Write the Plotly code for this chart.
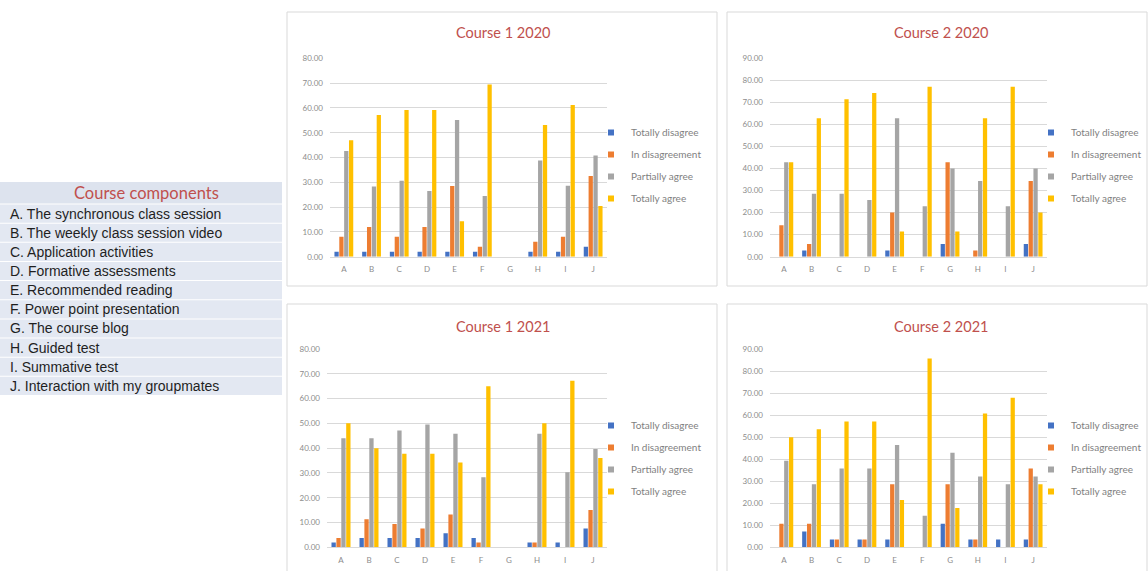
import plotly.graph_objects as go

W, H = 1148, 571

categories = ["A", "B", "C", "D", "E", "F", "G", "H", "I", "J"]
series_names = ["Totally disagree", "In disagreement", "Partially agree", "Totally agree"]
series_colors = ["#4472C4", "#ED7D31", "#A5A5A5", "#FFC000"]

# Percentages per course component (A..J) for each response level
c1_2020_totally_disagree = [2.0, 2.0, 2.0, 2.0, 2.0, 2.0, 0.0, 2.0, 2.0, 4.0]
c1_2020_in_disagreement = [8.0, 12.0, 8.0, 12.0, 28.5, 4.0, 0.0, 6.0, 8.0, 32.5]
c1_2020_partially_agree = [42.6, 28.3, 30.6, 26.5, 55.1, 24.5, 0.0, 38.8, 28.6, 40.8]
c1_2020_totally_agree = [47.0, 57.1, 59.2, 59.2, 14.3, 69.4, 0.0, 53.1, 61.2, 20.4]

c2_2020_totally_disagree = [0.0, 2.86, 0.0, 0.0, 2.86, 0.0, 5.71, 0.0, 0.0, 5.71]
c2_2020_in_disagreement = [14.29, 5.71, 0.0, 0.0, 20.0, 0.0, 42.86, 2.86, 0.0, 34.29]
c2_2020_partially_agree = [42.86, 28.57, 28.57, 25.71, 62.86, 22.86, 40.0, 34.29, 22.86, 40.0]
c2_2020_totally_agree = [42.86, 62.86, 71.43, 74.29, 11.43, 77.14, 11.43, 62.86, 77.14, 20.0]

c1_2021_totally_disagree = [1.89, 3.77, 3.77, 3.77, 5.66, 3.77, 0.0, 1.89, 1.89, 7.55]
c1_2021_in_disagreement = [3.77, 11.32, 9.43, 7.55, 13.21, 1.89, 0.0, 1.89, 0.0, 15.09]
c1_2021_partially_agree = [43.96, 43.96, 47.17, 49.5, 45.8, 28.3, 0.0, 45.8, 30.3, 39.62]
c1_2021_totally_agree = [50.0, 40.0, 37.74, 37.74, 34.2, 65.0, 0.0, 50.0, 67.2, 36.0]

c2_2021_totally_disagree = [0.0, 7.14, 3.57, 3.57, 3.57, 0.0, 10.71, 3.57, 3.57, 3.57]
c2_2021_in_disagreement = [10.71, 10.71, 3.57, 3.57, 28.57, 0.0, 28.57, 3.57, 0.0, 35.71]
c2_2021_partially_agree = [39.29, 28.57, 35.71, 35.71, 46.43, 14.29, 42.86, 32.14, 28.57, 32.14]
c2_2021_totally_agree = [50.0, 53.57, 57.14, 57.14, 21.43, 85.71, 17.86, 60.71, 67.86, 28.57]

panel_titles = ["Course 1 2020", "Course 2 2020", "Course 1 2021", "Course 2 2021"]
panel_ymax = [80, 90, 80, 90]

component_header = "Course components"
component_labels = [
    "A. The synchronous class session",
    "B. The weekly class session video",
    "C. Application activities",
    "D. Formative assessments",
    "E. Recommended reading",
    "F. Power point presentation",
    "G. The course blog",
    "H. Guided test",
    "I. Summative test",
    "J. Interaction with my groupmates",
]

panels = [
    [c1_2020_totally_disagree, c1_2020_in_disagreement, c1_2020_partially_agree, c1_2020_totally_agree],
    [c2_2020_totally_disagree, c2_2020_in_disagreement, c2_2020_partially_agree, c2_2020_totally_agree],
    [c1_2021_totally_disagree, c1_2021_in_disagreement, c1_2021_partially_agree, c1_2021_totally_agree],
    [c2_2021_totally_disagree, c2_2021_in_disagreement, c2_2021_partially_agree, c2_2021_totally_agree],
]


def px_x(x):
    return x / W


def px_y(y):
    return (H - y) / H


CHART_FONT = "Lato, 'Open Sans', sans-serif"
TABLE_FONT = "'Liberation Sans', Arial, sans-serif"
TITLE_COLOR = "#C0504D"

# pixel boxes: plot area (left, right, top, bottom), frame, title centre, legend anchor
layout_boxes = [
    dict(plot=(330, 607, 58.3, 256.7), frame=(287, 717, 12, 286), title=(503, 33), legend=(591, 118)),
    dict(plot=(770, 1047, 58.3, 256.7), frame=(727, 1147, 12, 286), title=(941, 33), legend=(1031, 118)),
    dict(plot=(327, 607, 349.0, 547.3), frame=(287, 717, 304, 575), title=(503, 326), legend=(591, 411)),
    dict(plot=(770, 1047, 349.0, 547.3), frame=(727, 1147, 304, 575), title=(941, 326), legend=(1031, 411)),
]

fig = go.Figure()
shapes = []
annotations = []

# Course components key on the left
TABLE_L, TABLE_R = 0, 282
HEADER_TOP, HEADER_BOTTOM = 182, 203.5
ROW_H = 19.15
shapes.append(dict(
    type="rect", xref="paper", yref="paper", layer="below",
    x0=px_x(TABLE_L), x1=px_x(TABLE_R), y0=px_y(HEADER_BOTTOM), y1=px_y(HEADER_TOP),
    fillcolor="#DDE3EE", line=dict(width=0),
))
annotations.append(dict(
    text=component_header, x=px_x((TABLE_L + TABLE_R) / 2 + 5), y=px_y(192.5),
    xref="paper", yref="paper", xanchor="center", yanchor="middle", showarrow=False,
    font=dict(family=CHART_FONT, size=16.5, color=TITLE_COLOR),
))
for k, label in enumerate(component_labels):
    top = HEADER_BOTTOM + 1 + k * ROW_H
    shapes.append(dict(
        type="rect", xref="paper", yref="paper", layer="below",
        x0=px_x(TABLE_L), x1=px_x(TABLE_R), y0=px_y(top + ROW_H - 1), y1=px_y(top),
        fillcolor="#E3E8F2", line=dict(width=0),
    ))
    annotations.append(dict(
        text=label, x=px_x(8), y=px_y(top + ROW_H / 2 - 0.5),
        xref="paper", yref="paper", xanchor="left", yanchor="middle", showarrow=False,
        font=dict(family=TABLE_FONT, size=14, color="#1f1f1f"),
    ))

for i, (box, values) in enumerate(zip(layout_boxes, panels)):
    n = i + 1
    xa = "x" if n == 1 else f"x{n}"
    ya = "y" if n == 1 else f"y{n}"
    lg = "legend" if n == 1 else f"legend{n}"
    for name, color, vals in zip(series_names, series_colors, values):
        fig.add_trace(go.Bar(
            x=categories, y=vals, name=name, marker=dict(color=color, line=dict(width=0)),
            xaxis=xa, yaxis=ya, showlegend=False, legendgroup=f"{lg}-{name}",
        ))
    # compact square legend keys for the series
    for name, color in zip(series_names, series_colors):
        fig.add_trace(go.Scatter(
            x=[None], y=[None], mode="markers", name=name,
            marker=dict(symbol="square", size=6, color=color),
            xaxis=xa, yaxis=ya, legend=lg, legendgroup=f"{lg}-{name}", hoverinfo="skip",
        ))

    x0, x1, y0, y1 = box["plot"]
    xkey = "xaxis" if n == 1 else f"xaxis{n}"
    ykey = "yaxis" if n == 1 else f"yaxis{n}"
    fig.update_layout(**{
        xkey: dict(
            domain=[px_x(x0), px_x(x1)], anchor=ya, showgrid=False, zeroline=False,
            showline=True, linecolor="#D9D9D9", linewidth=1, ticks="",
            type="category", categoryorder="array", categoryarray=categories,
            tickfont=dict(family=CHART_FONT, size=8, color="#8C8C8C"), ticklabelstandoff=5,
            fixedrange=True,
        ),
        ykey: dict(
            domain=[px_y(y1), px_y(y0)], anchor=xa, range=[0, panel_ymax[i]], dtick=10,
            tickformat=".2f", showgrid=True, gridcolor="#D9D9D9", gridwidth=1, zeroline=False,
            showline=False, ticks="", tickfont=dict(family=CHART_FONT, size=8, color="#8C8C8C"),
            ticklabelstandoff=6, fixedrange=True,
        ),
    })

    lx, ly = box["legend"]
    fig.update_layout(**{
        lg: dict(
            x=px_x(lx), y=px_y(ly), xanchor="left", yanchor="top",
            bgcolor="rgba(0,0,0,0)", font=dict(family=CHART_FONT, size=10, color="#7F7F7F"),
            tracegroupgap=3, itemwidth=30, itemsizing="trace", traceorder="grouped",
        )
    })

    fx0, fx1, fy0, fy1 = box["frame"]
    shapes.append(dict(
        type="rect", xref="paper", yref="paper",
        x0=px_x(fx0), x1=px_x(fx1), y0=px_y(fy1), y1=px_y(fy0),
        line=dict(color="#D9D9D9", width=1), fillcolor="rgba(0,0,0,0)", layer="below",
    ))

    tx, ty = box["title"]
    annotations.append(dict(
        text=panel_titles[i], x=px_x(tx), y=px_y(ty), xref="paper", yref="paper",
        xanchor="center", yanchor="middle", showarrow=False,
        font=dict(family=CHART_FONT, size=14.5, color=TITLE_COLOR),
    ))

fig.update_layout(
    width=W, height=H, margin=dict(l=0, r=0, t=0, b=0, autoexpand=False),
    paper_bgcolor="white", plot_bgcolor="white",
    barmode="group", bargap=0.3, bargroupgap=0.12,
    shapes=shapes, annotations=annotations, showlegend=True,
)

fig.write_html("out.html", config=dict(displayModeBar=False))
